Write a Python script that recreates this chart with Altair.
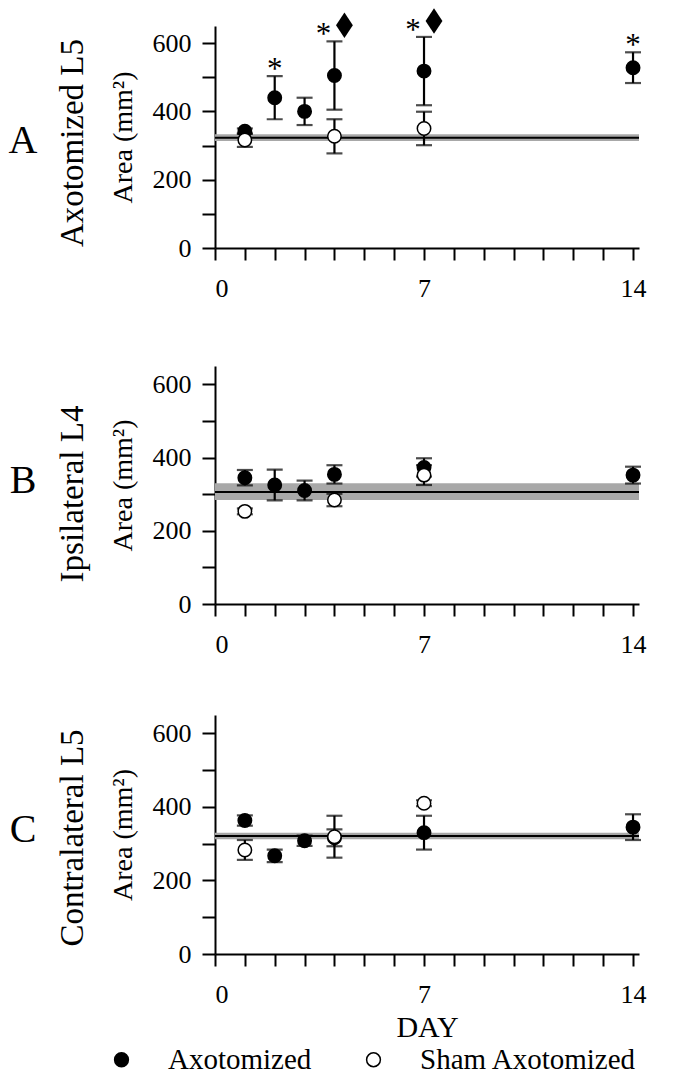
import altair as alt
import pandas as pd

FONT = "Liberation Serif"
GROUPS = ["Axotomized", "Sham Axotomized"]

# ---------------- data ----------------
# Panel A : Axotomized L5
A_axo_day = [1, 2, 3, 4, 7, 14]
A_axo_mean = [342, 440, 400, 505, 518, 528]
A_axo_err = [8, 63, 40, 100, 100, 45]
A_sham_day = [1, 4, 7]
A_sham_mean = [316, 327, 350]
A_sham_err = [20, 50, 49]
A_band = [313, 333]
A_line = 323
A_star_day = [2, 4, 7, 14]      # "*" significance marks
A_diamond_day = [4, 7]          # diamond significance marks

# Panel B : Ipsilateral L4
B_axo_day = [1, 2, 3, 4, 7, 14]
B_axo_mean = [345, 325, 310, 354, 373, 352]
B_axo_err = [21, 42, 27, 25, 25, 23]
B_sham_day = [1, 4, 7]
B_sham_mean = [253, 284, 352]
B_sham_err = [8, 17, 27]
B_band = [284, 330]
B_line = 306

# Panel C : Contralateral L5
C_axo_day = [1, 2, 3, 4, 7, 14]
C_axo_mean = [363, 267, 308, 316, 330, 345]
C_axo_err = [14, 17, 14, 23, 46, 35]
C_sham_day = [1, 4, 7]
C_sham_mean = [283, 319, 410]
C_sham_err = [27, 57, 8]
C_band = [312, 330]
C_line = 321

X_TICKS = list(range(0, 15))
Y_TICKS = [0, 100, 200, 300, 400, 500, 600]

W = 424
DIAMOND = "M0,-1L0.66,0L0,1L-0.66,0Z"


def points_df(axo_day, axo_mean, axo_err, sham_day, sham_mean, sham_err):
    rows = []
    for d, m, e in zip(axo_day, axo_mean, axo_err):
        rows.append({"day": d, "mean": m, "lo": m - e, "hi": m + e, "group": GROUPS[0]})
    for d, m, e in zip(sham_day, sham_mean, sham_err):
        rows.append({"day": d, "mean": m, "lo": m - e, "hi": m + e, "group": GROUPS[1]})
    return pd.DataFrame(rows)


xscale = alt.Scale(domain=[0, 14.2], nice=False, zero=False)
yscale = alt.Scale(domain=[0, 650], nice=False)


def panel(letter, name, H, name_y, df, band, line, stars=None, diamonds=None,
          show_x_title=False, show_legend=False):
    xaxis = alt.Axis(
        values=X_TICKS,
        labelExpr="datum.value % 7 == 0 ? datum.label : ''",
        labelOverlap=False,
        grid=False,
        title="DAY" if show_x_title else None,
        titleFont=FONT, titleFontSize=30, titleFontWeight="normal",
        titleColor="black", titlePadding=5,
    )
    yaxis = alt.Axis(
        values=Y_TICKS,
        labelExpr="datum.value % 200 == 0 ? datum.label : ''",
        labelOverlap=False,
        grid=False,
        title="Area (mm²)",
        titleFont=FONT, titleFontSize=28, titleFontWeight="normal", titleColor="black",
        titleX=-92, titleY=H / 2, titleAngle=270, titleAlign="center", titleBaseline="middle",
    )
    X = lambda f: alt.X(f, scale=xscale, axis=xaxis)
    Y = lambda f: alt.Y(f, scale=yscale, axis=yaxis)

    bdf = pd.DataFrame({"lo": [band[0]], "hi": [band[1]], "m": [line]})
    band_layer = alt.Chart(bdf).mark_rect(color="#a8a8a8").encode(y=Y("lo:Q"), y2="hi:Q")
    line_layer = alt.Chart(bdf).mark_rule(color="black", strokeWidth=2).encode(y=Y("m:Q"))

    base = alt.Chart(df)
    err = base.mark_errorbar(ticks=True, size=16, thickness=2.2, color="black").encode(
        x=X("day:Q"), y=Y("lo:Q"), y2="hi:Q"
    )
    legend = (
        alt.Legend(
            title=None, orient="none", direction="horizontal",
            legendX=-108, legendY=330,
            labelFont=FONT, labelFontSize=29, labelColor="black", labelLimit=500,
            symbolType="circle", symbolSize=190, symbolStrokeColor="black",
            symbolStrokeWidth=1.5, labelOffset=32, columnPadding=47,
        )
        if show_legend
        else None
    )
    pts = base.mark_point(filled=True, size=180, stroke="black", strokeWidth=1.5, opacity=1).encode(
        x=X("day:Q"), y=Y("mean:Q"),
        fill=alt.Fill("group:N", scale=alt.Scale(domain=GROUPS, range=["black", "white"]), legend=legend),
    )

    tdf = pd.DataFrame({"letter": [letter], "name": [name]})
    letter_layer = alt.Chart(tdf).mark_text(
        font=FONT, fontSize=40, align="center", baseline="middle", color="black"
    ).encode(x=alt.value(-192), y=alt.value(115), text="letter:N")
    name_layer = alt.Chart(tdf).mark_text(
        font=FONT, fontSize=33, align="center", baseline="middle", angle=270, color="black"
    ).encode(x=alt.value(-142), y=alt.value(name_y), text="name:N")

    layers = [band_layer, line_layer, err, pts, letter_layer, name_layer]
    if stars is not None:
        star_alone = alt.Chart(stars).transform_filter("!datum.paired").mark_text(
            font=FONT, fontSize=31, align="center", baseline="alphabetic", dy=3, color="black"
        ).encode(x=X("day:Q"), y=Y("top:Q"), text="t:N")
        star_pair = alt.Chart(stars).transform_filter("datum.paired").mark_text(
            font=FONT, fontSize=31, align="center", baseline="alphabetic", dy=3, dx=-11, color="black"
        ).encode(x=X("day:Q"), y=Y("top:Q"), text="t:N")
        layers += [star_alone, star_pair]
    if diamonds is not None:
        dia = alt.Chart(diamonds).mark_point(
            shape=DIAMOND, size=650, filled=True, color="black", opacity=1,
            xOffset=10, yOffset=-16,
        ).encode(x=X("day:Q"), y=Y("top:Q"))
        layers.append(dia)
    return alt.layer(*layers).properties(width=W, height=H)


dfA = points_df(A_axo_day, A_axo_mean, A_axo_err, A_sham_day, A_sham_mean, A_sham_err)
topA = dict(zip(A_axo_day, [m + e for m, e in zip(A_axo_mean, A_axo_err)]))
starA = pd.DataFrame({"day": A_star_day, "top": [topA[d] for d in A_star_day],
                      "paired": [d in A_diamond_day for d in A_star_day], "t": ["*"] * len(A_star_day)})
diaA = pd.DataFrame({"day": A_diamond_day, "top": [topA[d] for d in A_diamond_day]})

dfB = points_df(B_axo_day, B_axo_mean, B_axo_err, B_sham_day, B_sham_mean, B_sham_err)
dfC = points_df(C_axo_day, C_axo_mean, C_axo_err, C_sham_day, C_sham_mean, C_sham_err)

pA = panel("A", "Axotomized  L5", 222, 117, dfA, A_band, A_line, stars=starA, diamonds=diaA)
pB = panel("B", "Ipsilateral L4", 238, 128, dfB, B_band, B_line)
pC = panel("C", "Contralateral L5", 239, 123, dfC, C_band, C_line, show_x_title=True, show_legend=True)

chart = (
    alt.vconcat(alt.vconcat(pA, pB, spacing=65), pC, spacing=58)
    .resolve_legend(fill="independent")
    .properties(background="white", padding={"left": 0, "top": 0, "right": 5, "bottom": 5})
    .configure_view(stroke=None)
    .configure_axis(
        domainColor="black", domainWidth=2, tickColor="black", tickWidth=2,
        labelFont=FONT, labelFontSize=26, labelColor="black",
    )
    .configure_axisX(tickSize=12, labelPadding=15)
    .configure_axisY(tickSize=13, labelPadding=11)
)

chart.save("out.html", embed_options={"renderer": "svg", "actions": False})
